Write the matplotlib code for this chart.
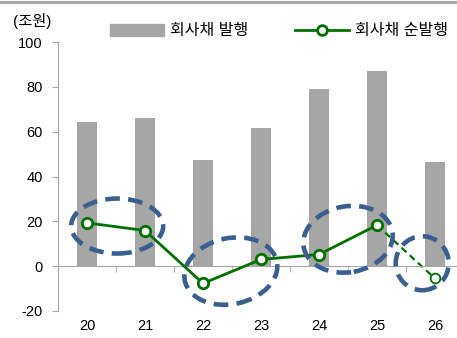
import numpy as np
import matplotlib
matplotlib.use("Agg")
import matplotlib.pyplot as plt
import matplotlib.transforms as mtransforms
from matplotlib.patches import Ellipse
from matplotlib.lines import Line2D

plt.rcParams['font.family'] = ['Liberation Sans', 'Noto Sans CJK KR']
plt.rcParams['axes.unicode_minus'] = False

years = ['20', '21', '22', '23', '24', '25', '26']
issuance = [64.3, 66.0, 47.3, 61.6, 79.0, 87.0, 46.4]
net_issuance = [19.3, 15.9, -7.7, 3.0, 5.2, 18.3, -5.5]

# highlight rings: data centre, then size in pixels (w, h, angle)
rings = [
    (0.52, 17.9, 92, 55, 0),
    (2.48, -2.2, 94, 66, 12),
    (4.50, 12.0, 90, 66, 10),
    (5.78, 1.3, 53, 54, 0),
]

bar_color = '#a6a6a6'
line_color = '#007000'
ring_color = '#3a5f8f'
axis_color = '#a6a6a6'

fig = plt.figure(figsize=(4.57, 3.38), dpi=100)
ax = fig.add_axes([58 / 457, 27 / 338, 406 / 457, 269 / 338])

x = np.arange(len(years))
ax.bar(x, issuance, width=0.34, color=bar_color, zorder=1)

# solid line up to 25, dashed estimate for 26
ax.plot(x[:-1], net_issuance[:-1], color=line_color, lw=2, zorder=3,
        marker='o', ms=7.5, mfc='white', mec=line_color, mew=2)
ax.plot(x[-2:], net_issuance[-2:], color=line_color, lw=1.6, ls=(0, (3, 2)), zorder=2)
ax.plot(x[-1], net_issuance[-1], 'o', ms=7, mfc='white', mec=line_color,
        mew=1.3, zorder=3)

for cx, cy, w, h, ang in rings:
    tr = mtransforms.Affine2D() + mtransforms.ScaledTranslation(cx, cy, ax.transData)
    ax.add_patch(Ellipse((0, 0), w, h, angle=ang, transform=tr, fill=False,
                         ec=ring_color, lw=3.3, ls=(0, (3.2, 1.8)), zorder=4,
                         clip_on=False))

ax.set_xlim(-0.5, len(years) - 0.5)
ax.set_ylim(-20, 100)
ax.set_yticks(np.arange(-20, 101, 20))

for s in ['top', 'right']:
    ax.spines[s].set_visible(False)
ax.spines['left'].set_color(axis_color)
ax.spines['bottom'].set_color(axis_color)
ax.spines['bottom'].set_position(('data', 0))
ax.spines['bottom'].set_clip_on(False)

ax.set_xticks(x)
ax.set_xticklabels(years)
ax.set_xticks(x[:-1] + 0.5, minor=True)
ax.tick_params(axis='x', which='major', length=0, pad=38, labelsize=10.5)
ax.tick_params(axis='x', which='minor', length=4, color=axis_color, direction='out')
ax.tick_params(axis='y', length=4, color=axis_color, labelsize=10.5, pad=7)

fig.text(13 / 457, 1 - 21 / 338, '(조원)', fontsize=11, va='center', ha='left')

handles = [plt.Rectangle((0, 0), 1, 1, color=bar_color),
           Line2D([], [], color=line_color, lw=2, marker='o', ms=7,
                  mfc='white', mec=line_color, mew=2)]
fig.legend(handles, ['회사채 발행', '회사채 순발행'], ncol=2, frameon=False,
           fontsize=11.5, loc='center', bbox_to_anchor=(279 / 457, 1 - 31 / 338),
           handlelength=3.4, handletextpad=0.35, columnspacing=2.95)

# grey rule across the top
fig.add_artist(Line2D([0, 1], [1 - 2 / 338, 1 - 2 / 338], transform=fig.transFigure,
                      color=axis_color, lw=2.2))

fig.savefig('out.png', dpi=100)
